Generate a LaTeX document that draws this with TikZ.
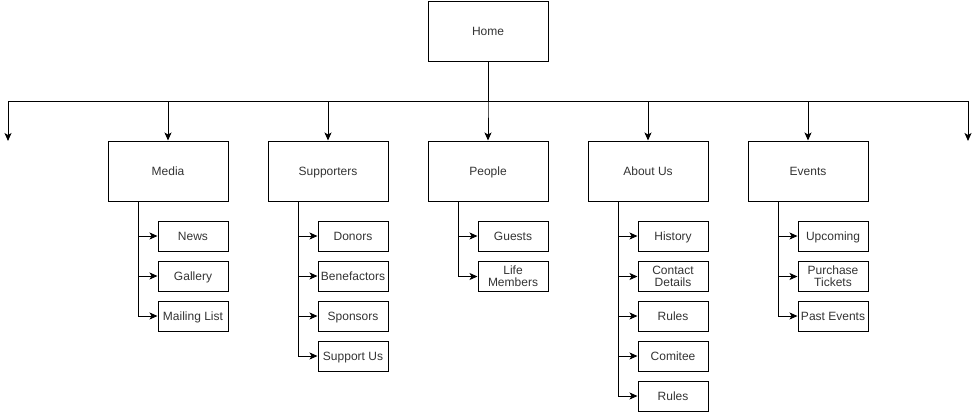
\documentclass[tikz,border=0pt]{standalone}
\usepackage{fontspec}
\setmainfont{Liberation Sans}
\usetikzlibrary{arrows.meta}
\definecolor{txt}{HTML}{333333}
\begin{document}
\begin{tikzpicture}[x=1pt,y=-1pt,
  every node/.style={font=\fontsize{12}{13.5}\selectfont,text=txt},
  boxline/.style={draw,line width=1pt,inner sep=0pt},
  oneline/.style={text height=9pt,text depth=0.8pt},
  mainbox/.style={boxline,oneline,minimum width=120pt,minimum height=60pt},
  subbox/.style={boxline,oneline,minimum width=70pt,minimum height=30pt},
  subbox2/.style={boxline,minimum width=70pt,minimum height=30pt,align=center},
  arr/.style={line width=1pt,-{Stealth[length=8pt,width=7pt,inset=2pt]}}]
\useasboundingbox (0,0) rectangle (979,413);

% top level
\node[mainbox] (home) at (488,31) {Home};
\node[mainbox] (media) at (168,171) {Media};
\node[mainbox] (supp) at (328,171) {Supporters};
\node[mainbox] (people) at (488,171) {People};
\node[mainbox] (about) at (648,171) {About Us};
\node[mainbox] (events) at (808,171) {Events};
\coordinate (lft) at (8,141);
\coordinate (rgt) at (968,141);
\coordinate (bus) at (488,101);

% sub pages
\node[subbox] (news) at (193,236) {News};
\node[subbox] (gallery) at (193,276) {Gallery};
\node[subbox] (mail) at (193,316) {Mailing List};

\node[subbox] (donors) at (353,236) {Donors};
\node[subbox] (bene) at (353,276) {Benefactors};
\node[subbox] (spons) at (353,316) {Sponsors};
\node[subbox] (suppus) at (353,356) {Support Us};

\node[subbox] (guests) at (513,236) {Guests};
\node[subbox2] (life) at (513,276.5) {Life\\[-1.5pt]Members};

\node[subbox] (hist) at (673,236) {History};
\node[subbox2] (contact) at (673,276.5) {Contact\\[-1.5pt]Details};
\node[subbox] (rules) at (673,316) {Rules};
\node[subbox] (comm) at (673,356) {Comitee};
\node[subbox] (rules2) at (673,396) {Rules};

\node[subbox] (upc) at (833,236) {Upcoming};
\node[subbox2] (tick) at (833,276.5) {Purchase\\[-1.5pt]Tickets};
\node[subbox] (past) at (833,316) {Past Events};

% home to sections
\foreach \t in {lft,media,supp,people,about,events,rgt}
  \draw[arr] (home.south) -- (bus) -| (\t);

% section to sub pages
\foreach \p/\list in {media/{news,gallery,mail},
                      supp/{donors,bene,spons,suppus},
                      people/{guests,life},
                      about/{hist,contact,rules,comm,rules2},
                      events/{upc,tick,past}}
  \foreach \c in \list
    \draw[arr] ([xshift=-30pt]\p.south) |- (\c.west);
\end{tikzpicture}
\end{document}
